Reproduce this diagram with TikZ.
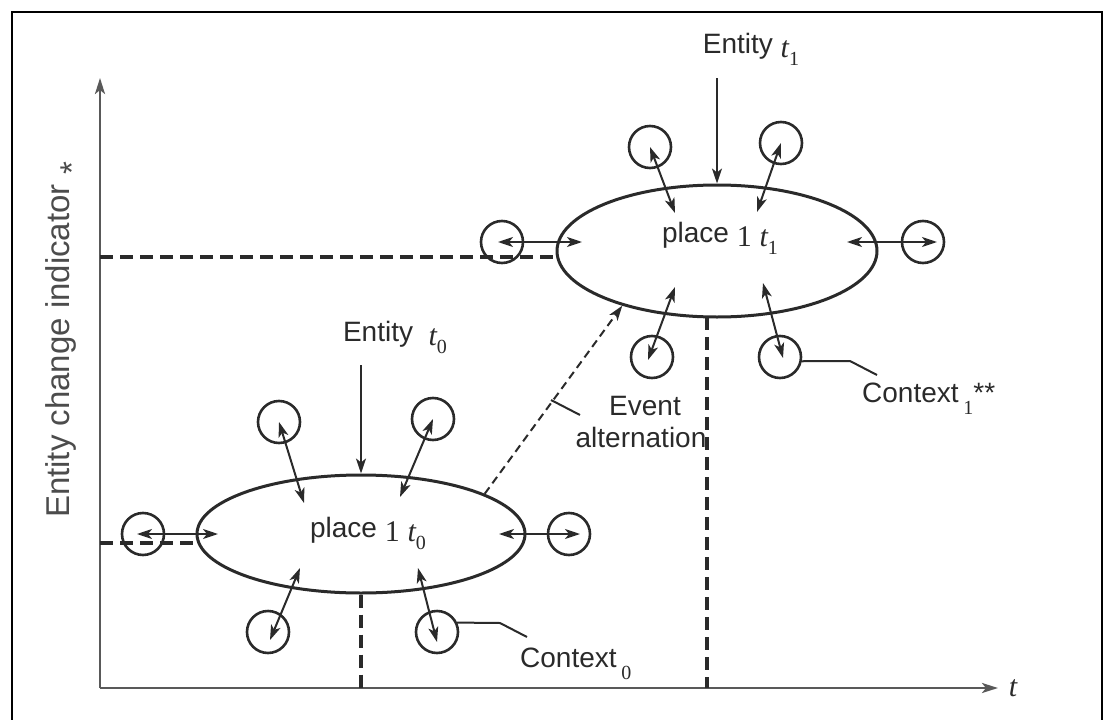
\documentclass[tikz,border=0pt]{standalone}
\usepackage{fontspec}
\setmainfont{Liberation Sans}
\newfontfamily\serif{Liberation Serif}
\usetikzlibrary{arrows.meta,shapes.geometric}
\newcommand\ser{\serif\fontsize{30}{30}\selectfont}
\newcommand\mysub[1]{\raisebox{-12pt}{\fontsize{20}{20}\selectfont\serif #1}}
\newcommand\tsub[1]{\raisebox{-4pt}{\ser\itshape t}\mysub{#1}}
\definecolor{ink}{HTML}{2A2A2A}
\tikzset{
 lbl/.style={font=\fontsize{28}{30}\selectfont, inner sep=0pt, text=ink},
 placebox/.style={ellipse, draw=ink, line width=3pt, inner sep=0pt},
 ctx/.style={circle, draw=ink, line width=2.6pt, minimum size=42pt, inner sep=0pt},
 dbl/.style={line width=2pt, ink, {Stealth[length=15pt,width=10pt,inset=4pt]}-{Stealth[length=15pt,width=10pt,inset=4pt]}},
 arrone/.style={line width=2pt, ink, -{Stealth[length=15pt,width=10pt,inset=4pt]}},
 guide/.style={line width=3.2pt, dash pattern=on 13pt off 7pt, ink},
 leader/.style={line width=2pt, ink},
 axisline/.style={line width=2.6pt, black!65, -{Stealth[length=16pt,width=10pt,inset=4pt]}},
}
\begin{document}
\begin{tikzpicture}[x=1pt,y=-1pt]
\useasboundingbox (0,0) rectangle (1109,720);
% frame
\draw[line width=2.6pt] (12,720) -- (12,12) -- (1102,12) -- (1102,720);
% axes
\coordinate (O) at (100,688);
\coordinate (ytop) at (100,78);
\coordinate (xend) at (998,688);
\draw[axisline] (O) -- (ytop);
\draw[axisline] (O) -- (xend);
\node[inner sep=0pt, text=ink, font=\serif\itshape\fontsize{30}{30}\selectfont] (tlab) at (1013,688) {t};
\node[lbl, text=black!70, font=\fontsize{33}{35}\selectfont, rotate=90, anchor=base] (ylab) at (69,340) {Entity change indicator \raisebox{-0.45em}{*}};
% ellipses
\node[placebox, minimum width=328pt, minimum height=118pt] (e0) at (361,534) {};
\node[placebox, minimum width=320pt, minimum height=132pt] (e1) at (717,251) {};
\node[lbl, anchor=base] (p0) at (368,537) {place \raisebox{-4pt}{\ser 1} \tsub{0}};
\node[lbl, anchor=base] (p1) at (720,242) {place \raisebox{-4pt}{\ser 1} \tsub{1}};
% entities
\node[lbl, anchor=base] (ent0) at (395,341) {Entity\ \ \tsub{0}};
\node[lbl, anchor=base] (ent1) at (751,53) {Entity \tsub{1}};
\coordinate (ent0a) at (361,365);
\coordinate (ent1a) at (717,78);
\draw[arrone] (ent0a) -- (e0.north);
\draw[arrone] (ent1a) -- (e1.north);
% guides
\coordinate (g1) at (100,257);
\coordinate (g0) at (100,543);
\coordinate (v1) at (707,317);
\draw[guide] (g1) -- (e1.west |- g1);
\draw[guide] (g0) -- (e0.west |- g0);
\draw[guide] (e0.south) -- (e0.south |- O);
\draw[guide] (v1) -- (v1 |- O);
% lower contexts
\node[ctx] (c0tl) at (279,422) {};
\node[ctx] (c0tr) at (433,419) {};
\node[ctx] (c0l) at (143,534) {};
\node[ctx] (c0r) at (569,534) {};
\node[ctx] (c0bl) at (268,632) {};
\node[ctx] (c0br) at (437,632) {};
\coordinate (a0tl) at (304,503);
\coordinate (a0tr) at (400,497);
\coordinate (a0l) at (218,534);
\coordinate (a0r) at (499,534);
\coordinate (a0bl) at (300,568);
\coordinate (a0br) at (418,568);
\coordinate (t0l) at (137,534);
\coordinate (t0r) at (580,534);
\coordinate (t0bl) at (270,640);
\coordinate (t0br) at (437,642);
\draw[dbl] (c0tl.center) -- (a0tl);
\draw[dbl] (c0tr.center) -- (a0tr);
\draw[dbl] (t0l) -- (a0l);
\draw[dbl] (a0r) -- (t0r);
\draw[dbl] (a0bl) -- (t0bl);
\draw[dbl] (a0br) -- (t0br);
% upper contexts
\node[ctx] (c1tl) at (650,147) {};
\node[ctx] (c1tr) at (781,143) {};
\node[ctx] (c1l) at (502,242) {};
\node[ctx] (c1r) at (923,242) {};
\node[ctx] (c1bl) at (652,357) {};
\node[ctx] (c1br) at (780,357) {};
\coordinate (a1tl) at (675,213);
\coordinate (a1tr) at (757,212);
\coordinate (a1l) at (582,242);
\coordinate (a1r) at (847,242);
\coordinate (a1bl) at (675,287);
\coordinate (a1br) at (763,283);
\coordinate (t1l) at (498,242);
\coordinate (t1r) at (937,242);
\coordinate (t1bl) at (648,360);
\coordinate (t1br) at (783,358);
\draw[dbl] (c1tl.center) -- (a1tl);
\draw[dbl] (c1tr.center) -- (a1tr);
\draw[dbl] (t1l) -- (a1l);
\draw[dbl] (a1r) -- (t1r);
\draw[dbl] (a1bl) -- (t1bl);
\draw[dbl] (a1br) -- (t1br);
% event alternation
\draw[line width=2pt, ink, dash pattern=on 8pt off 5pt, -{Stealth[length=15pt,width=10pt,inset=4pt]}] (e0.18) -- (e1.210);
\coordinate (ea) at (551,400);
\coordinate (eb) at (580,415);
\draw[leader] (ea) -- (eb);
\node[lbl, anchor=base] (ev1) at (645,415) {Event};
\node[lbl, anchor=base] (ev2) at (641,447) {alternation};
% context labels
\coordinate (l0a) at (500,623);
\coordinate (l0b) at (527,637);
\draw[leader] (c0br.25) -- (l0a) -- (l0b);
\node[lbl, anchor=base west] (ctx0) at (520,667) {Context\,\mysub{0}};
\coordinate (l1a) at (850,361);
\coordinate (l1b) at (877,375);
\draw[leader] (c1br.-11) -- (l1a) -- (l1b);
\node[lbl, anchor=base west] (ctx1) at (862,402) {Context\,\mysub{1}**};
\end{tikzpicture}
\end{document}
